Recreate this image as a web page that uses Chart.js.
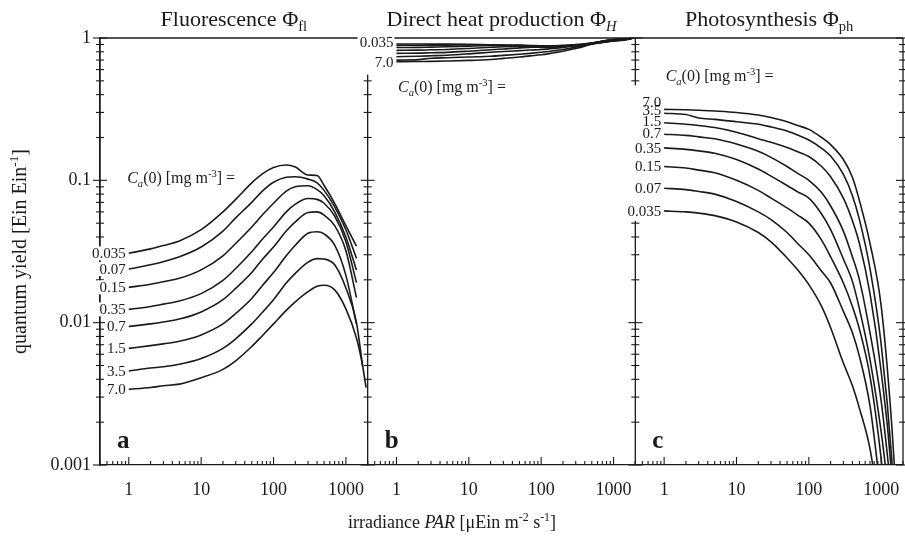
<!DOCTYPE html>
<html><head><meta charset="utf-8">
<script src="https://cdn.jsdelivr.net/npm/chart.js@4"></script>
<style>html,body{margin:0;padding:0;background:#fff}#wrap{width:905px;height:543px;position:relative}</style>
</head><body><div id="wrap"><canvas id="c" width="905" height="543"></canvas></div>
<script>
// irradiance grid (µEin m-2 s-1)
const PAR = [1,2,3,5,10,20,30,50,70,100,150,200,300,400,500,700,1000,1400,1700,1900];
const CONC = ['0.035','0.07','0.15','0.35','0.7','1.5','3.5','7.0'];
const Y_TICKS = [1, 0.1, 0.01, 0.001];
const X_TICKS = [1, 10, 100, 1000];

// (a) fluorescence quantum yield
const fl_0035 = [0.0307,0.0330,0.0348,0.0375,0.0450,0.0600,0.0735,0.0960,0.1110,0.1230,0.1280,0.1240,0.1090,0.1080,0.0920,0.0690,0.0480,0.0345,null,null];
const fl_007  = [0.0238,0.0255,0.0268,0.0290,0.0340,0.0440,0.0545,0.0700,0.0840,0.0970,0.1050,0.1060,0.1020,0.0960,0.0850,0.0650,0.0450,0.0283,null,null];
const fl_015  = [0.0177,0.0186,0.0194,0.0205,0.0235,0.0295,0.0360,0.0470,0.0570,0.0690,0.0840,0.0900,0.0915,0.0860,0.0780,0.0600,0.0400,0.0234,null,null];
const fl_035  = [0.0124,0.0130,0.0135,0.0142,0.0160,0.0198,0.0240,0.0315,0.0385,0.0470,0.0600,0.0680,0.0745,0.0735,0.0690,0.0560,0.0370,0.0191,null,null];
const fl_07   = [0.0094,0.0098,0.0101,0.0106,0.0119,0.0145,0.0174,0.0225,0.0278,0.0340,0.0440,0.0510,0.0595,0.0600,0.0570,0.0480,0.0320,0.0150,null,null];
const fl_15   = [0.0066,0.0069,0.0071,0.0074,0.0082,0.0098,0.0116,0.0148,0.0182,0.0225,0.0295,0.0350,0.0425,0.0435,0.0420,0.0350,0.0215,0.0098,null,null];
const fl_35   = [0.00457,0.0048,0.0049,0.0051,0.0056,0.0066,0.0077,0.0098,0.0118,0.0145,0.0190,0.0222,0.0266,0.0282,0.0280,0.0255,0.0175,0.0100,0.0050,null];
const fl_70   = [0.0034,0.0035,0.0036,0.0037,0.0041,0.0047,0.0054,0.0068,0.0081,0.0098,0.0122,0.0140,0.0165,0.0180,0.0183,0.0170,0.0125,0.0078,0.0050,0.0035];

// (b) direct heat production quantum yield
const h_0035 = [0.908,0.907,0.906,0.906,0.904,0.897,0.890,0.876,0.866,0.859,0.859,0.867,0.886,0.888,0.906,0.930,0.952,0.966,0.985,1.0];
const h_007  = [0.888,0.889,0.890,0.891,0.895,0.896,0.893,0.887,0.880,0.873,0.872,0.875,0.886,0.896,0.909,0.932,0.954,0.972,0.988,1.0];
const h_015  = [0.857,0.859,0.863,0.867,0.877,0.886,0.889,0.891,0.886,0.881,0.878,0.881,0.890,0.901,0.913,0.936,0.959,0.977,0.990,1.0];
const h_035  = [0.819,0.822,0.826,0.831,0.844,0.860,0.869,0.877,0.879,0.878,0.882,0.887,0.898,0.907,0.919,0.939,0.961,0.981,0.992,1.0];
const h_07   = [0.780,0.783,0.788,0.793,0.808,0.826,0.838,0.853,0.860,0.866,0.874,0.883,0.897,0.911,0.923,0.944,0.965,0.984,0.994,1.0];
const h_15   = [0.739,0.745,0.750,0.757,0.774,0.794,0.803,0.815,0.823,0.831,0.846,0.859,0.883,0.905,0.922,0.949,0.974,0.989,0.996,1.0];
const h_35   = [0.699,0.705,0.721,0.727,0.736,0.745,0.755,0.769,0.780,0.794,0.813,0.830,0.863,0.894,0.919,0.951,0.976,0.989,0.996,1.0];
const h_70   = [0.682,0.684,0.685,0.689,0.696,0.707,0.719,0.735,0.749,0.762,0.788,0.808,0.844,0.877,0.910,0.947,0.975,0.990,0.996,1.0];

// (c) photosynthesis quantum yield
const p_0035 = [0.061,0.060,0.0588,0.0565,0.051,0.043,0.037,0.0285,0.0235,0.0185,0.013,0.0092,0.0052,0.0036,0.0025,0.0013,0.0004,null,null,null];
const p_007  = [0.088,0.086,0.0835,0.080,0.071,0.060,0.053,0.043,0.036,0.030,0.023,0.019,0.012,0.0085,0.0058,0.0026,0.0006,null,null,null];
const p_015  = [0.125,0.122,0.118,0.113,0.100,0.085,0.075,0.064,0.057,0.050,0.038,0.029,0.019,0.013,0.009,0.0042,0.0011,0.0002,null,null];
const p_035  = [0.169,0.165,0.161,0.155,0.140,0.120,0.107,0.092,0.083,0.075,0.058,0.045,0.028,0.0195,0.0125,0.0055,0.0017,0.0004,null,null];
const p_07   = [0.211,0.207,0.202,0.196,0.180,0.160,0.145,0.125,0.112,0.100,0.082,0.066,0.044,0.029,0.020,0.0085,0.0028,0.0006,null,null];
const p_15   = [0.254,0.248,0.243,0.235,0.218,0.196,0.185,0.170,0.159,0.147,0.125,0.106,0.075,0.052,0.036,0.016,0.0045,0.0008,0.0001,null];
const p_35   = [0.296,0.290,0.274,0.268,0.258,0.248,0.237,0.222,0.208,0.192,0.168,0.148,0.110,0.078,0.053,0.024,0.0070,0.0011,0.0002,null];
const p_70   = [0.315,0.313,0.311,0.307,0.300,0.288,0.276,0.258,0.243,0.228,0.200,0.178,0.140,0.105,0.072,0.036,0.0130,0.0019,0.0004,null];

const FL = [fl_0035,fl_007,fl_015,fl_035,fl_07,fl_15,fl_35,fl_70];
const HEAT = [h_0035,h_007,h_015,h_035,h_07,h_15,h_35,h_70];
const PH = [p_0035,p_007,p_015,p_035,p_07,p_15,p_35,p_70];

const FONT = '"Liberation Serif", "Times New Roman", serif';
const INK = '#1a1a1a';

const datasets = [];
[[FL,'x1'],[HEAT,'x2'],[PH,'x3']].forEach(([group, axis]) => {
  group.forEach((arr, k) => {
    datasets.push({
      label: CONC[k], xAxisID: axis, yAxisID: 'y',
      data: PAR.map((x, i) => ({x, y: arr[i]})),
      borderColor: INK, borderWidth: 1.6, pointRadius: 0,
      cubicInterpolationMode: 'monotone', spanGaps: false, fill: false
    });
  });
});

function isPow10(v){ const l = Math.log10(v); return Math.abs(l - Math.round(l)) < 1e-6; }

function xAxis(){
  return {
    type: 'logarithmic', position: 'bottom', stack: 'panels', stackWeight: 1,
    min: 0.4, max: 2000,
    afterFit(s){ s.height = 78; s.paddingLeft = 0; s.paddingRight = 0; },
    grid: {display: false, drawTicks: false},
    border: {display: true, color: INK, width: 1.3},
    ticks: {
      autoSkip: false, maxRotation: 0, padding: 14, color: INK,
      font: {family: FONT, size: 18},
      callback(v){ return (v >= 1 && isPow10(v) && X_TICKS.includes(Math.round(v))) ? String(Math.round(v)) : ''; }
    }
  };
}

function rich(ctx, segs, x, y, align, base){
  let w = 0;
  const items = segs.map(s => {
    const small = s.sup || s.sub;
    const size = small ? base * 0.66 : base;
    const font = (s.i ? 'italic ' : '') + (s.b ? 'bold ' : '') + size + 'px ' + FONT;
    ctx.font = font;
    const wd = ctx.measureText(s.t).width;
    w += wd;
    return {t: s.t, font, wd, dy: s.sup ? -base * 0.38 : (s.sub ? base * 0.24 : 0)};
  });
  let cx = align === 'center' ? x - w / 2 : (align === 'right' ? x - w : x);
  ctx.textAlign = 'left'; ctx.textBaseline = 'alphabetic';
  items.forEach(it => { ctx.font = it.font; ctx.fillText(it.t, cx, y + it.dy); cx += it.wd; });
  return w;
}

const CA_TEXT = [{t:'C',i:1},{t:'a',i:1,sub:1},{t:'(0) [mg m'},{t:'-3',sup:1},{t:'] ='}];

const deco = {
  id: 'deco',
  beforeDatasetsDraw(chart){
    const {ctx, chartArea: a, scales} = chart;
    const xs = [scales.x1, scales.x2, scales.x3];
    const ln = (x1,y1,x2,y2) => { ctx.beginPath(); ctx.moveTo(x1,y1); ctx.lineTo(x2,y2); ctx.stroke(); };
    ctx.save();
    ctx.strokeStyle = INK; ctx.lineWidth = 1.3;
    ln(a.left, a.top, a.right, a.top);
    const vl = [a.left, scales.x1.right, scales.x2.right, a.right];
    vl.forEach(x => ln(x, a.top, x, a.bottom));
    ctx.lineWidth = 1.1;
    for (let e = -3; e <= 0; e++) for (let m = 1; m <= 9; m++) {
      const v = m * Math.pow(10, e);
      if (v > 1.000001) break;
      const y = scales.y.getPixelForValue(v);
      const L = m === 1 ? 7 : 4;
      vl.forEach(x => ln(x - L, y, Math.min(x + L, 905), y));
    }
    xs.forEach(s => {
      for (let e = -1; e <= 3; e++) for (let m = 1; m <= 9; m++) {
        const v = m * Math.pow(10, e);
        if (v < 0.4 - 1e-9 || v > 2000 + 1e-9) continue;
        const x = s.getPixelForValue(v);
        ln(x, a.bottom, x, a.bottom - (m === 1 ? 8 : 4));
      }
    });
    ctx.restore();
  },
  afterDatasetsDraw(chart){
    const {ctx, chartArea: a, scales} = chart;
    const Y = scales.y;
    ctx.save();
    ctx.fillStyle = INK;
    const labSize = 15;
    const drawLab = (txt, xr, yc, bg) => {
      ctx.font = labSize + 'px ' + FONT;
      const w = ctx.measureText(txt).width;
      if (bg) { ctx.fillStyle = '#fff'; ctx.fillRect(xr - w - 2, yc - 7, w + 3, 14); ctx.fillStyle = INK; }
      ctx.textAlign = 'right'; ctx.textBaseline = 'middle';
      ctx.fillText(txt, xr, yc + 1);
    };
    // panel a labels
    const xa = scales.x1.getPixelForValue(PAR[0]) - 3;
    FL.forEach((arr, k) => drawLab(CONC[k], xa, Y.getPixelForValue(arr[0]), true));
    // panel b labels (first and last only)
    const xb = scales.x2.getPixelForValue(PAR[0]) - 3;
    const yb0 = Y.getPixelForValue(HEAT[0][0]), yb1 = Y.getPixelForValue(HEAT[7][0]);
    ctx.fillStyle = '#fff'; ctx.fillRect(xb - 36, yb0 - 9, 37, yb1 - yb0 + 22); ctx.fillStyle = INK;
    drawLab(CONC[0], xb, yb0 - 2, false);
    drawLab(CONC[7], xb, yb1, false);
    // panel c labels
    const xc = scales.x3.getPixelForValue(PAR[0]) - 3;
    const nudge = [0, 0, 0, 0, -1, -2, -3, -7];
    const yc0 = Y.getPixelForValue(PH[7][0]) - 24, yc1 = Y.getPixelForValue(PH[0][0]) + 10;
    ctx.fillStyle = '#fff'; ctx.fillRect(xc - 34, yc0, 35, yc1 - yc0); ctx.fillStyle = INK;
    PH.forEach((arr, k) => drawLab(CONC[k], xc, Y.getPixelForValue(arr[0]) + nudge[k], false));

    // C_a(0) captions
    ctx.fillStyle = INK;
    rich(ctx, CA_TEXT, scales.x1.getPixelForValue(0.95), Y.getPixelForValue(0.1) + 3, 'left', 16);
    rich(ctx, CA_TEXT, scales.x2.getPixelForValue(1.05), Y.getPixelForValue(0.45) + 5, 'left', 16);
    rich(ctx, CA_TEXT, scales.x3.getPixelForValue(1.05), Y.getPixelForValue(0.53) + 4, 'left', 16);

    // panel letters
    ctx.font = 'bold 25px ' + FONT; ctx.textAlign = 'left'; ctx.textBaseline = 'alphabetic';
    const yl = a.bottom - 17;
    ctx.fillText('a', a.left + 17, yl);
    ctx.fillText('b', scales.x2.left + 17, yl);
    ctx.fillText('c', scales.x3.left + 17, yl);

    // panel titles
    const tY = 26;
    rich(ctx, [{t:'Fluorescence \u03A6'},{t:'fl',sub:1}], (scales.x1.left + scales.x1.right) / 2, tY, 'center', 22);
    rich(ctx, [{t:'Direct heat production \u03A6'},{t:'H',sub:1,i:1}], (scales.x2.left + scales.x2.right) / 2, tY, 'center', 22);
    rich(ctx, [{t:'Photosynthesis \u03A6'},{t:'ph',sub:1}], (scales.x3.left + scales.x3.right) / 2, tY, 'center', 22);

    // x title
    rich(ctx, [{t:'irradiance '},{t:'PAR',i:1},{t:' [\u03BCEin m'},{t:'-2',sup:1},{t:' s'},{t:'-1',sup:1},{t:']'}], 452, 528, 'center', 18);
    // y title
    ctx.translate(19, (a.top + a.bottom) / 2);
    ctx.rotate(-Math.PI / 2);
    rich(ctx, [{t:'quantum yield [Ein Ein'},{t:'-1',sup:1},{t:']'}], 0, 7, 'center', 20);
    ctx.restore();
  }
};

new Chart(document.getElementById('c'), {
  type: 'line',
  data: {datasets},
  plugins: [deco],
  options: {
    responsive: false, animation: false, devicePixelRatio: 1,
    layout: {padding: {top: 38, right: 2, bottom: 0, left: 0}},
    plugins: {legend: {display: false}, tooltip: {enabled: false}, title: {display: false}},
    scales: {
      y: {
        type: 'logarithmic', position: 'left', min: 0.001, max: 1,
        afterFit(s){ s.width = 100; },
        grid: {display: false, drawTicks: false},
        border: {display: true, color: INK, width: 1.3},
        ticks: {
          autoSkip: false, padding: 9, color: INK, font: {family: FONT, size: 18},
          callback(v){ return Y_TICKS.some(t => Math.abs(t - v) < t * 1e-6) ? (v >= 1 ? '1' : String(+v.toPrecision(1))) : ''; }
        }
      },
      x1: xAxis(), x2: xAxis(), x3: xAxis()
    }
  }
});
</script>
</body></html>
